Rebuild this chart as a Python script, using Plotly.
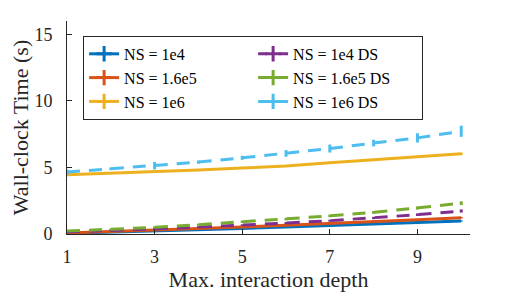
import plotly.graph_objects as go

depth = [1, 2, 3, 4, 5, 6, 7, 8, 9, 10]

ns_1e4 = [0.05, 0.13, 0.22, 0.32, 0.42, 0.53, 0.64, 0.76, 0.87, 0.98]
ns_1p6e5 = [0.08, 0.18, 0.28, 0.40, 0.52, 0.65, 0.78, 0.92, 1.07, 1.23]
ns_1e6 = [4.45, 4.55, 4.67, 4.80, 4.95, 5.10, 5.35, 5.55, 5.80, 6.02]
ns_1e4_ds = [0.15, 0.25, 0.38, 0.52, 0.66, 0.82, 1.00, 1.20, 1.45, 1.73]
ns_1p6e5_ds = [0.22, 0.35, 0.50, 0.70, 0.92, 1.12, 1.36, 1.62, 1.95, 2.31]
ns_1e6_ds = [4.65, 4.90, 5.13, 5.40, 5.72, 6.05, 6.42, 6.83, 7.22, 7.72]

err_1e4 = [0.02, 0.02, 0.02, 0.03, 0.03, 0.03, 0.03, 0.04, 0.04, 0.04]
err_1p6e5 = [0.02, 0.03, 0.03, 0.03, 0.04, 0.04, 0.04, 0.05, 0.05, 0.05]
err_1e6 = [0.05, 0.05, 0.06, 0.06, 0.06, 0.07, 0.07, 0.08, 0.08, 0.09]
err_1e4_ds = [0.05, 0.06, 0.06, 0.07, 0.07, 0.08, 0.08, 0.09, 0.10, 0.12]
err_1p6e5_ds = [0.06, 0.07, 0.08, 0.08, 0.09, 0.10, 0.10, 0.11, 0.12, 0.14]
err_1e6_ds = [0.20, 0.10, 0.28, 0.12, 0.15, 0.25, 0.30, 0.25, 0.35, 0.42]

names = ["NS = 1e4", "NS = 1.6e5", "NS = 1e6", "NS = 1e4 DS", "NS = 1.6e5 DS", "NS = 1e6 DS"]
series = [ns_1e4, ns_1p6e5, ns_1e6, ns_1e4_ds, ns_1p6e5_ds, ns_1e6_ds]
errors = [err_1e4, err_1p6e5, err_1e6, err_1e4_ds, err_1p6e5_ds, err_1e6_ds]
colors = ["#0072BD", "#D95319", "#EDB120", "#7E2F8E", "#77AC30", "#4DBEEE"]
dashed = [False, False, False, True, True, True]

FONT = "Liberation Serif"
AX = "#262626"

fig = go.Figure()

# data traces (no legend)
for name, ys, es, c, d in zip(names, series, errors, colors, dashed):
    fig.add_trace(go.Scatter(
        x=depth, y=ys, mode="lines", name=name, showlegend=False,
        line=dict(color=c, width=3, dash="13px,9px" if d else "solid"),
        error_y=dict(type="data", array=es, visible=True, color=c, thickness=3, width=0),
    ))

# legend entries, ordered row-wise for a 2-column legend
for i in [0, 3, 1, 4, 2, 5]:
    fig.add_trace(go.Scatter(
        x=[None], y=[None], mode="lines+markers", name=names[i],
        line=dict(color=colors[i], width=3, dash="9px,12px" if dashed[i] else "solid"),
        marker=dict(symbol="cross-thin", size=11, color=colors[i],
                    line=dict(width=3, color=colors[i])),
    ))

fig.update_layout(
    width=520, height=295,
    margin=dict(l=59, r=58, t=13, b=69, autoexpand=False),
    paper_bgcolor="white", plot_bgcolor="white",
    font=dict(family=FONT, color=AX, size=18),
    showlegend=True,
    legend=dict(
        orientation="h", x=0.04, y=0.93, xanchor="left", yanchor="top",
        bordercolor=AX, borderwidth=1, bgcolor="white",
        font=dict(family=FONT, size=16, color="black"),
        entrywidth=124, entrywidthmode="pixels",
        tracegroupgap=0, itemwidth=30,
    ),
    xaxis=dict(
        range=[1, 10.2], tickvals=[1, 3, 5, 7, 9], ticktext=["1", "3", "5", "7", "9"],
        showline=True, linecolor=AX, linewidth=1, mirror=False, automargin=False,
        ticks="inside", ticklen=5, tickcolor=AX, showgrid=False, zeroline=False,
        tickfont=dict(size=18), ticklabelstandoff=6,
        title=dict(text="Max. interaction depth", font=dict(size=22), standoff=0),
    ),
    yaxis=dict(
        range=[0, 16], tickvals=[0, 5, 10, 15], ticktext=["0", "5", "10", "15"],
        showline=True, linecolor=AX, linewidth=1, mirror=False, automargin=False,
        ticks="inside", ticklen=5, tickcolor=AX, showgrid=False, zeroline=False,
        tickfont=dict(size=18), ticklabelstandoff=10,
        title=dict(text="Wall-clock Time (s)", font=dict(size=22), standoff=4),
    ),
)

fig.write_html("out.html")
